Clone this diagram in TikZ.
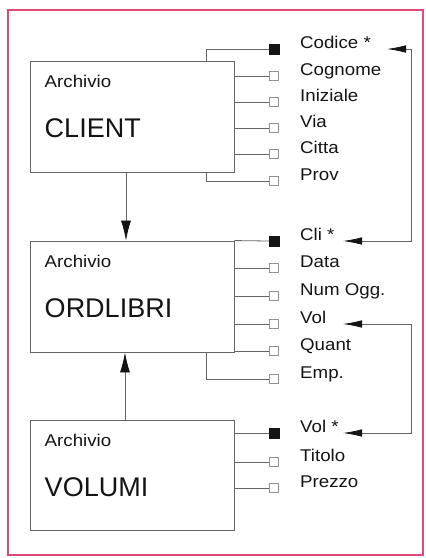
\documentclass[tikz,border=0pt]{standalone}
\usepackage{fontspec}
\setmainfont[FakeStretch=1.1]{Liberation Sans}
\newfontfamily\titlefont{Liberation Sans}
\usetikzlibrary{arrows.meta,positioning,calc}
\definecolor{frame}{RGB}{228,72,118}
\definecolor{ink}{RGB}{20,20,20}
\definecolor{wire}{RGB}{100,100,100}

\tikzset{
  archive/.style={draw=wire,line width=0.9pt,minimum width=204pt,inner sep=0pt},
  keybox/.style={draw=ink,fill=ink,minimum size=10pt,inner sep=0pt},
  fieldbox/.style={draw=wire!70,fill=white,minimum size=9pt,inner sep=0pt},
  field/.style={anchor=base west,inner sep=0pt,text=ink,font=\fontsize{17}{19}\selectfont},
  title/.style={anchor=base west,inner sep=0pt,text=ink,font=\titlefont\fontsize{27}{30}\selectfont},
  wiring/.style={draw=wire,line width=0.8pt},
  link/.style={wiring,{Latex[length=19pt,width=7.5pt,color=ink]}-{Latex[length=19pt,width=7.5pt,color=ink]}},
  flow/.style={wiring,-{Latex[length=20pt,width=10pt,color=ink]}},
}

\begin{document}
\begin{tikzpicture}[x=1pt,y=-1pt]
\useasboundingbox (0,0) rectangle (426,558);
\draw[frame,line width=2pt] (8,10) rectangle (423,555);

% archivi
\node[archive,minimum height=111pt] (client) at (132,116.5) {};
\node[archive,minimum height=111pt] (ordlibri) at (132,296.5) {};
\node[archive,minimum height=110pt] (volumi) at (132,475) {};
\node[field] (a1) at ($(client.north west)+(15,27)$) {Archivio};
\node[title] (t1) at ($(client.north west)+(15,77)$) {CLIENT};
\node[field] (a2) at ($(ordlibri.north west)+(15,27)$) {Archivio};
\node[title] (t2) at ($(ordlibri.north west)+(15,77)$) {ORDLIBRI};
\node[field] (a3) at ($(volumi.north west)+(15,27)$) {Archivio};
\node[title] (t3) at ($(volumi.north west)+(15,77)$) {VOLUMI};

% campi di CLIENT
\node[keybox] (c1) at (274,49) {};
\node[fieldbox] (c2) at (274,76) {};
\node[fieldbox] (c3) at (274,102) {};
\node[fieldbox] (c4) at (274,128) {};
\node[fieldbox] (c5) at (274,154) {};
\node[fieldbox] (c6) at (274,181) {};
\node[field] (cod) at ($(c1)+(26,-1)$) {Codice *};
\node[field] at ($(c2)+(26,-1)$) {Cognome};
\node[field] at ($(c3)+(26,-1)$) {Iniziale};
\node[field] at ($(c4)+(26,-1)$) {Via};
\node[field] at ($(c5)+(26,-1)$) {Citta};
\node[field] at ($(c6)+(26,-1)$) {Prov};

% campi di ORDLIBRI
\node[keybox] (o1) at (274,241) {};
\node[fieldbox] (o2) at (274,268) {};
\node[fieldbox] (o3) at (274,296) {};
\node[fieldbox] (o4) at (274,324) {};
\node[fieldbox] (o5) at (274,351) {};
\node[fieldbox] (o6) at (274,379) {};
\node[field] (cli) at ($(o1)+(26,-1)$) {Cli *};
\node[field] at ($(o2)+(26,-1)$) {Data};
\node[field] at ($(o3)+(26,-1)$) {Num Ogg.};
\node[field] (vol) at ($(o4)+(26,-1)$) {Vol};
\node[field] at ($(o5)+(26,-1)$) {Quant};
\node[field] at ($(o6)+(26,-1)$) {Emp.};

% campi di VOLUMI
\node[keybox] (v1) at (274,433) {};
\node[fieldbox] (v2) at (274,462) {};
\node[fieldbox] (v3) at (274,488) {};
\node[field] (vols) at ($(v1)+(26,-1)$) {Vol *};
\node[field] at ($(v2)+(26,-1)$) {Titolo};
\node[field] at ($(v3)+(26,-1)$) {Prezzo};

% collegamenti ai campi
\draw[wiring] ($(client.north east)+(-28,0)$) |- (c1.west);
\draw[wiring] (client.east |- c2) -- (c2.west);
\draw[wiring] (client.east |- c3) -- (c3.west);
\draw[wiring] (client.east |- c4) -- (c4.west);
\draw[wiring] (client.east |- c5) -- (c5.west);
\draw[wiring] ($(client.south east)+(-28,0)$) |- (c6.west);
\draw[wiring] (ordlibri.north east) -- (o1.west);
\draw[wiring] (ordlibri.east |- o2) -- (o2.west);
\draw[wiring] (ordlibri.east |- o3) -- (o3.west);
\draw[wiring] (ordlibri.east |- o4) -- (o4.west);
\draw[wiring] (ordlibri.east |- o5) -- (o5.west);
\draw[wiring] ($(ordlibri.south east)+(-28,0)$) |- (o6.west);
\draw[wiring] (volumi.east |- v1) -- (v1.west);
\draw[wiring] (volumi.east |- v2) -- (v2.west);
\draw[wiring] (volumi.east |- v3) -- (v3.west);

% chiavi
\coordinate (codtip) at (387,49);
\coordinate (clitip) at (343,241);
\coordinate (voltip) at (343,324);
\coordinate (volstip) at (343,433);
\draw[link] (codtip) -- ++(24,0) |- (clitip);
\draw[link] (voltip) -- ++(68,0) |- (volstip);

% relazioni tra archivi
\draw[flow] ($(client.south)+(-6,0)$) -- ($(ordlibri.north)+(-6,0)$);
\draw[flow] ($(volumi.north)+(-7,0)$) -- ($(ordlibri.south)+(-7,0)$);
\end{tikzpicture}
\end{document}
